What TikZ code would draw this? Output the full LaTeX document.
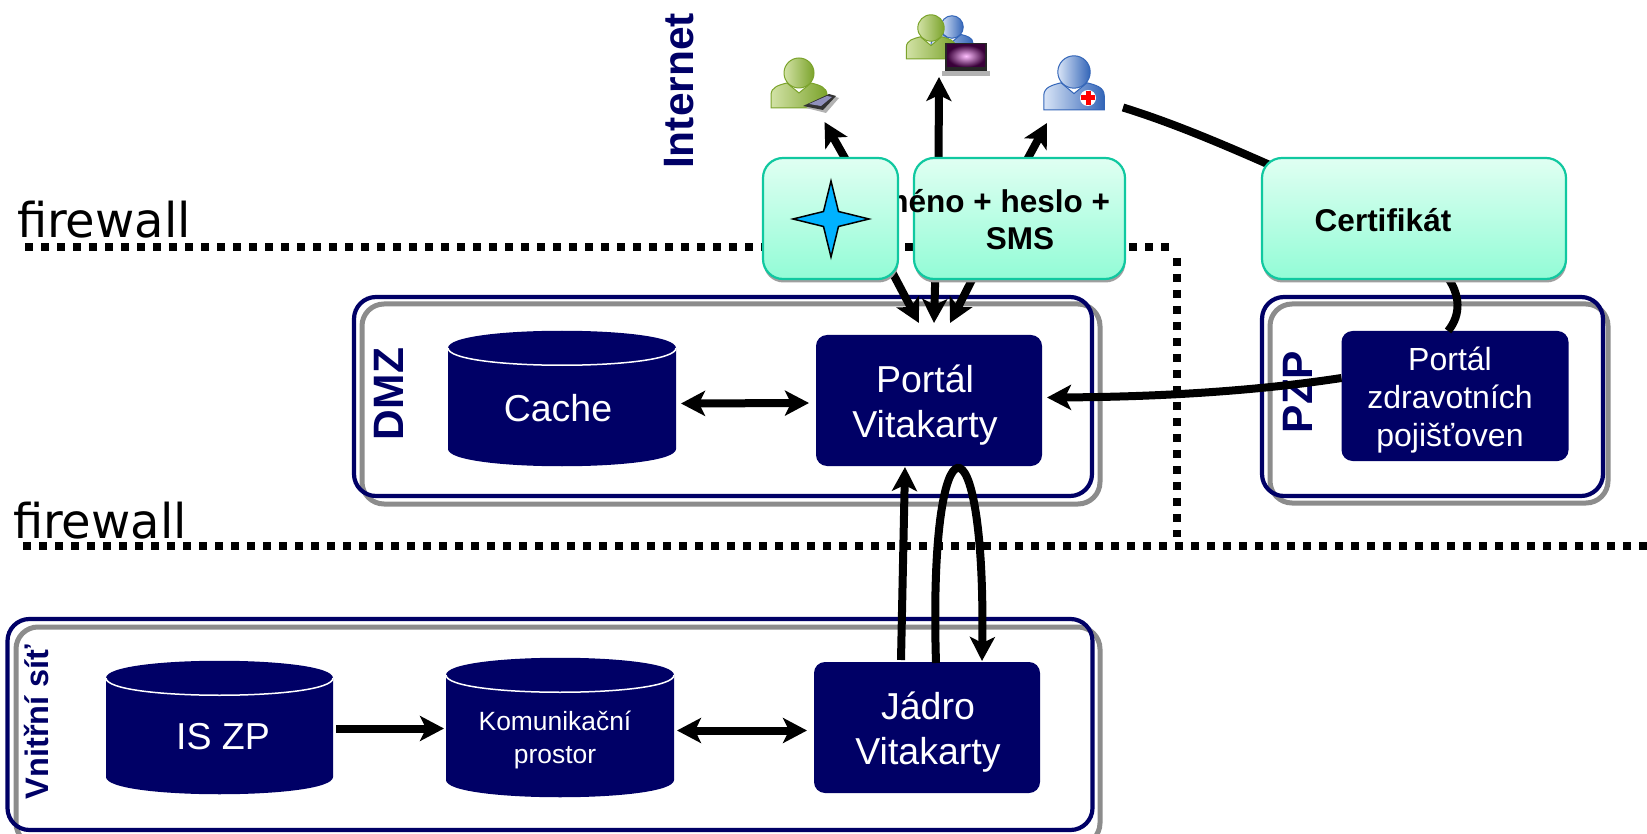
\documentclass[tikz,border=0pt]{standalone}
\usepackage{fontspec}
\setmainfont{Liberation Sans}
\newfontfamily\fwfont{DejaVu Sans}
\usetikzlibrary{arrows.meta,shadows,calc}
\definecolor{navy}{HTML}{000066}
\definecolor{edgeg}{HTML}{10C8A0}
\definecolor{zonegray}{HTML}{8C8C8C}
\definecolor{glight}{HTML}{D2E2A6}
\definecolor{gdark}{HTML}{7BA32B}
\definecolor{blight}{HTML}{D8E4F6}
\definecolor{bdark}{HTML}{3365B8}
\pgfdeclarelayer{bglayer}
\pgfdeclarelayer{fgone}
\pgfdeclarelayer{fgtwo}
\pgfsetlayers{bglayer,main,fgone,fgtwo}
\newcommand{\fs}[2]{\fontsize{#1}{#2}\selectfont}
\tikzset{
  x=1pt,y=-1pt,
  every node/.style={inner sep=0pt,outer sep=0pt},
  navybox/.style={fill=navy,rounded corners=11pt,text=white,align=center},
  greenbox/.style={rounded corners=20pt,draw=edgeg,line width=2.2pt,
    top color={rgb,255:red,224;green,255;blue,242},bottom color={rgb,255:red,146;green,252;blue,214},
    drop shadow={shadow xshift=0.5pt,shadow yshift=-3.5pt,opacity=1,fill=gray!75}},
  zoneblue/.style={draw=navy,line width=4.2pt,rounded corners=22pt},
  zonegrey/.style={draw=zonegray,line width=5pt,rounded corners=22pt},
  fwline/.style={line width=8pt,dash pattern=on 8pt off 8pt},
  link/.style={line width=8pt,draw=black},
  arr/.style={link,-{Stealth[length=24pt,width=25pt,inset=6pt]}},
  arrr/.style={link,{Stealth[length=24pt,width=25pt,inset=6pt]}-{Stealth[length=24pt,width=25pt,inset=6pt]}},
  zonelabel/.style={rotate=90,text=navy,font=\bfseries\fs{42.5}{46}},
  blackbold/.style={font=\bfseries\fs{31.5}{36},text=black},
  fwtext/.style={font=\fwfont\fs{48}{54},anchor=base west}
}
% cylinder: name, x1, top, x2, bottom, font, text x, text y, text
\newcommand{\dbcyl}[9]{%
  \pgfmathsetmacro{\cxa}{#2}\pgfmathsetmacro{\cxb}{#4}%
  \pgfmathsetmacro{\tyy}{#3+17}\pgfmathsetmacro{\byy}{#5-17}%
  \pgfmathsetmacro{\kta}{#3+17+23}\pgfmathsetmacro{\ktb}{#3+17-23}\pgfmathsetmacro{\kb}{#5-17+23}%
  \fill[navy] (\cxa,\tyy) .. controls (\cxa,\ktb) and (\cxb,\ktb) .. (\cxb,\tyy) -- (\cxb,\byy)
     .. controls (\cxb,\kb) and (\cxa,\kb) .. (\cxa,\byy) -- cycle;
  \draw[white,line width=1.5pt] (\cxa,\tyy) .. controls (\cxa,\kta) and (\cxb,\kta) .. (\cxb,\tyy);
  \pgfmathsetmacro{\ww}{#4-#2}\pgfmathsetmacro{\hh}{#5-#3}%
  \pgfmathsetmacro{\mx}{(#2+#4)/2}\pgfmathsetmacro{\my}{(#3+#5)/2}%
  \node[minimum width=\ww pt,minimum height=\hh pt] (#1) at (\mx,\my) {};
  \node[text=white,align=center,font=#6] (#1t) at (#7,#8) {#9};
}
% person icon
\newcommand{\person}[5]{% x,y,scale,light,dark
  \begin{scope}[shift={(#1,#2)},scale=#3]
    \shade[left color=#4,right color=#5,draw=#5,line width=1pt]
      (-28,35) -- (-28,22) .. controls (-28,14) and (-20,12) .. (-12,10) -- (0,20) -- (12,10)
      .. controls (20,12) and (28,14) .. (28,22) -- (28,35) -- cycle;
    \shade[left color=#4,right color=#5,draw=#5,line width=1pt] (0,0) circle [radius=15];
  \end{scope}}
\begin{document}
\begin{tikzpicture}
\useasboundingbox (0,0) rectangle (1647,834);

% firewall lines
\begin{pgfonlayer}{bglayer}
  \fill[white] (0,0) rectangle (1647,834);
  \draw[fwline] (25,247) -- (1173,247);
  \draw[fwline] (1177,258) -- (1177,537);
  \draw[fwline] (23,546) -- (1647,546);
\end{pgfonlayer}
\node[fwtext] (fwa) at (17,238) {firewall};
\node[fwtext] (fwb) at (13,538) {firewall};
\node[rotate=90,text=navy,font=\bfseries\fs{42.5}{46}] (inet) at (679,91) {Internet};

% zones
\draw[zonegrey] (362,304) rectangle (1100,504);
\node[zoneblue,minimum width=738pt,minimum height=199pt] (dmz) at (723,396.5) {};
\draw[zonegrey] (1270,304) rectangle (1608,503);
\node[zoneblue,minimum width=341pt,minimum height=199pt] (pzp) at (1432.5,396.5) {};
\draw[zonegrey] (16,627) rectangle (1100,845);
\node[zoneblue,minimum width=1085pt,minimum height=211pt] (inner) at (550,724.5) {};
\node[zonelabel] (dmzl) at (389,394) {DMZ};
\node[zonelabel] (pzpl) at (1298,392) {PZP};
\node[rotate=90,text=navy,font=\bfseries\fs{32.5}{36}] (innerl) at (37,722) {Vnitřní síť};

% navy boxes
\node[navybox,minimum width=226pt,minimum height=131pt] (portal) at (929,400.5) {};
\node[text=white,align=center,font=\fs{37.5}{45}] (portalt) at (925,405) {Portál\\Vitakarty};
\node[navybox,minimum width=226pt,minimum height=131pt] (jadro) at (927,727.5) {};
\node[text=white,align=center,font=\fs{37.5}{45}] (jadrot) at (928,732) {Jádro\\Vitakarty};
\node[navybox,minimum width=227pt,minimum height=130pt] (pportal) at (1455,396) {};
\node[text=white,align=center,font=\fs{32}{38.3}] (pportalt) at (1450,400) {Portál\\zdravotních\\pojišťoven};

% cylinders
\dbcyl{cache}{448}{331}{676}{466}{\fs{37.5}{45}}{558}{408}{Cache}
\dbcyl{iszp}{106}{661}{333}{794}{\fs{37.5}{45}}{223}{737}{IS ZP}
\dbcyl{kom}{446}{658}{674}{797}{\fs{26.4}{33}}{555}{740}{Komunikační\\prostor}

% icons (named anchors)
\node[minimum width=67pt,minimum height=53pt] (iconA) at (804.5,85.5) {};
\node[minimum width=81pt,minimum height=60pt] (iconB) at (947,45) {};
\node[minimum width=62pt,minimum height=51pt] (iconC) at (1074,82.5) {};

\person{799}{73}{1}{glight}{gdark}
\fill[gray!60] (806,108) -- (832,96) -- (839,98) -- (826,113) -- cycle;
\fill[black!80] (803,106) -- (829,94) -- (836,96) -- (823,110) -- cycle;
\fill[blue!25!gray!70] (809,104) -- (827,96) -- (832,97) -- (821,106) -- cycle;

\person{952}{27}{0.75}{blight}{bdark}
\person{931}{28}{0.88}{glight}{gdark}
\fill[black!85] (945,43) rectangle (987,71);
\shade[inner color=magenta!25!white,outer color=violet!45!black] (947,45) rectangle (985,67);
\fill[gray!60] (942,71) rectangle (990,76);

\person{1074}{72}{1.08}{blight}{bdark}
\fill[white] (1088,98) circle [radius=8];
\fill[red] (1085.5,91) rectangle (1090.5,105);
\fill[red] (1081,95.5) rectangle (1095,100.5);

% front boxes
\begin{pgfonlayer}{fgone}
  \node[greenbox,minimum width=211pt,minimum height=121pt] (pw) at (1019.5,218.5) {};
  \node[blackbold,anchor=east] (pwa) at (1110,204) {jméno + heslo +};
  \node[blackbold] (pwb) at (1020,239) {SMS};
  \node[greenbox,minimum width=304pt,minimum height=121pt] (cert) at (1414,218.5) {};
  \node[blackbold] (certt) at (1383,220) {Certifikát};
\end{pgfonlayer}
\begin{pgfonlayer}{fgtwo}
  \node[greenbox,minimum width=135pt,minimum height=121pt] (star) at (830.5,218.5) {};
  \draw[black,line width=1.5pt,fill={rgb,255:red,0;green,178;blue,255}]
    (831,181) -- (838.5,211.5) -- (869,219) -- (838.5,226.5) -- (831,257) -- (823.5,226.5) -- (793,219) -- (823.5,211.5) -- cycle;
\end{pgfonlayer}

% connectors
\draw[arr] ([shift={(20,10)}]star.north) -- ([shift={(20,10)}]iconA.south);
\draw[arr] ([shift={(-81,12)}]pw.north) -- ([shift={(-8,2)}]iconB.south);
\draw[arr] ([shift={(2,12)}]pw.north) -- ([shift={(-27,15)}]iconC.south);
\draw[arr] ([shift={(60,-10)}]star.south) -- ([shift={(-10,-12)}]portal.north);
\draw[arr] ([shift={(-84,-10)}]pw.south) -- ([shift={(5,-12)}]portal.north);
\draw[arr] ([shift={(-42,-10)}]pw.south) -- ([shift={(21,-12)}]portal.north);
\draw[link] ([shift={(18,25)}]iconC.east) .. controls (1170,122) and (1220,143) .. ([shift={(10,8)}]cert.north west);
\draw[link] ([shift={(32,-4)}]cert.south) .. controls (1461,295) and (1461,315) .. ([shift={(-7,0)}]pportal.north);
\draw[arr] (pportal.west |- 0,378) .. controls (1250,392) and (1150,397) .. ([shift={(5,-3)}]portal.east);
\draw[arrr] ([shift={(5,5)}]cache.east) -- ([shift={(-7,2.5)}]portal.west);
\draw[arr] ([shift={(-26,-2)}]jadro.north) -- ([shift={(-24,1)}]portal.south);
\draw[arr] ([shift={(9,1)}]jadro.north) .. controls (928,406) and (986,406) .. ([shift={(55,-1)}]jadro.north);
\draw[arr] ([shift={(3,1)}]iszp.east) -- ([shift={(-2,1)}]kom.west);
\draw[arrr] ([shift={(3,3)}]kom.east) -- ([shift={(-7,3)}]jadro.west);
\end{tikzpicture}
\end{document}
